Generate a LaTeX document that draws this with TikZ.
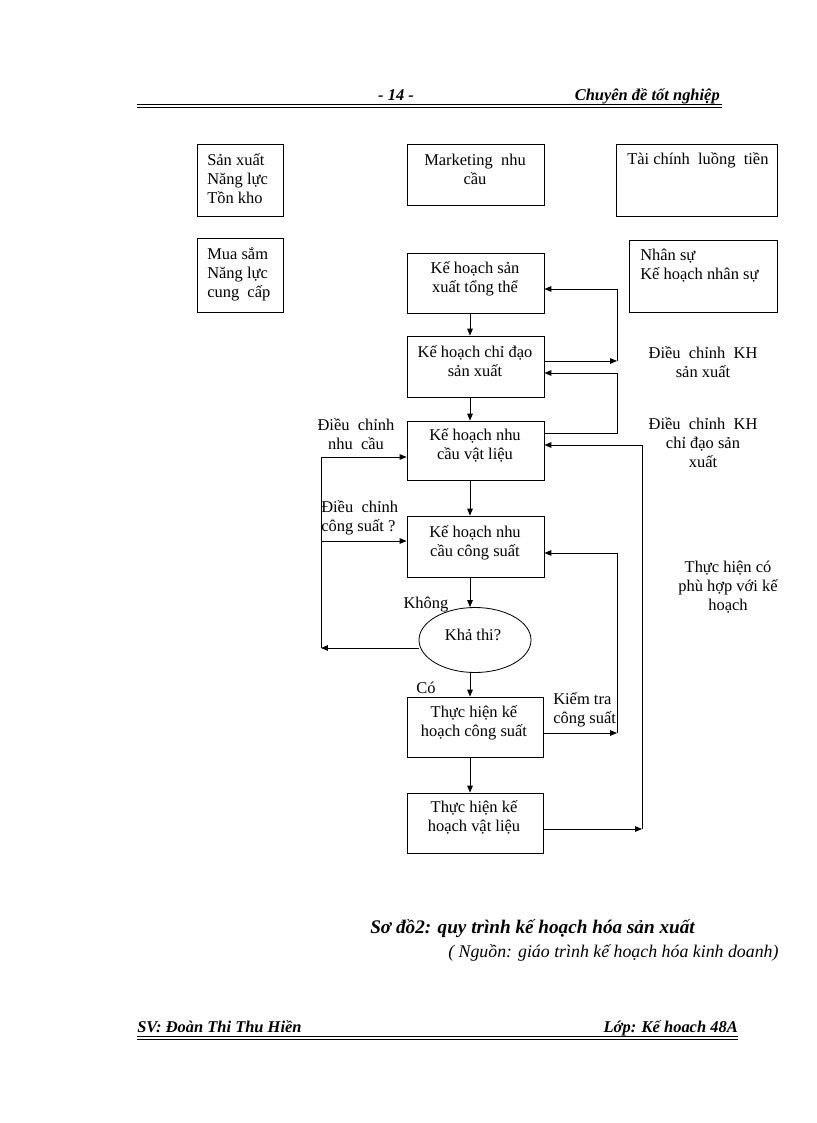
\documentclass[tikz,border=0pt]{standalone}
\usepackage{fontspec}
\setmainfont{Liberation Serif}
\usetikzlibrary{arrows.meta,fit,shapes.geometric}
\begin{document}
\begin{tikzpicture}[x=0.7292pt,y=-0.7292pt,
  box/.style={draw, line width=0.6pt, inner sep=0pt},
  txt/.style={align=center, inner sep=0pt, font=\fontsize{12}{13.8}\selectfont},
  ltxt/.style={align=left, inner sep=0pt, font=\fontsize{12}{13.8}\selectfont},
  hdr/.style={inner sep=0pt, font=\fontsize{12}{14}\selectfont\bfseries\itshape},
  arr/.style={-{Triangle[length=5pt,width=4pt]}, line width=0.6pt},
  ln/.style={line width=0.6pt}]
\useasboundingbox[fill=white] (0,0) rectangle (816,1123);

% header
\node[hdr, anchor=base] (pg) at (396,101) {- 14 -};
\node[hdr, anchor=base east] (ct) at (720,101) {Chuyên đề tốt nghiệp};
\draw[line width=0.9pt] (137,104.5) -- (722,104.5);
\draw[line width=0.5pt] (137,107) -- (722,107);

% boxes
\node[box, fit={(197,144)(283,216)}] (b1) {};
\node[box, fit={(407,144)(544,205)}] (b2) {};
\node[box, fit={(616,144)(777,216)}] (b3) {};
\node[box, fit={(197,238)(283,312)}] (b4) {};
\node[box, fit={(407,253)(544,313)}] (b5) {};
\node[box, fit={(629,240)(777,312)}] (b6) {};
\node[box, fit={(407,336)(544,397)}] (b7) {};
\node[box, fit={(407,421)(544,480)}] (b8) {};
\node[box, fit={(407,516)(544,577)}] (b9) {};
\node[draw, ellipse, line width=0.6pt, inner sep=0pt, minimum width={112*0.7292pt}, minimum height={65*0.7292pt}] (ell) at (475,640) {};
\node[box, fit={(407,697)(543,757)}] (b10) {};
\node[box, fit={(407,793)(543,853)}] (b11) {};

% box texts
\node[ltxt, anchor=west] (t1) at (207,179) {Sản xuất\\Năng lực\\Tồn kho};
\node[txt] (t2) at (475,169.5) {Marketing\ \ nhu\\cầu};
\node[ltxt, anchor=west] (t3) at (627,160) {Tài chính\ \ luồng\ \ tiền};
\node[ltxt, anchor=west] (t4) at (207,274) {Mua sắm\\Năng lực\\cung\ \ cấp};
\node[txt] (t5) at (475,278.5) {Kế hoạch sản\\xuất tổng thể};
\node[ltxt, anchor=west] (t6) at (640,265.5) {Nhân sự\\Kế hoạch nhân sự};
\node[txt] (t7) at (475,361.5) {Kế hoạch chỉ đạo\\sản xuất};
\node[txt] (t8) at (475,445.5) {Kế hoạch nhu\\cầu vật liệu};
\node[txt] (t9) at (475,542.5) {Kế hoạch nhu\\cầu công suất};
\node[txt] (te) at (473,635) {Khả thi?};
\node[txt] (t10) at (474,722.5) {Thực hiện kế\\hoạch công suất};
\node[txt] (t11) at (474,817.5) {Thực hiện kế\\hoạch vật liệu};

% side labels
\node[txt] (l1t) at (356,434) {Điều\ \ chỉnh\\nhu\ \ cầu};
\node[ltxt, anchor=west] (l2t) at (321,517.5) {Điều\ \ chỉnh\\công suất ?};
\node[txt] (kh) at (426,605) {Không};
\node[txt] (co) at (426,688) {Có};
\node[ltxt, anchor=west] (kt) at (553,710) {Kiểm tra\\công suất};
\node[txt] (r1t) at (703,362) {Điều\ \ chỉnh\ \ KH\\sản xuất};
\node[txt] (r2t) at (703,443) {Điều\ \ chỉnh\ \ KH\\chỉ đạo sản\\xuất};
\node[txt] (r3t) at (728,587) {Thực hiện có\\phù hợp với kế\\hoạch};

% main vertical chain
\coordinate (cx) at (470,0);
\draw[arr] (cx |- b5.south) -- (cx |- b7.north);
\draw[arr] (cx |- b7.south) -- (cx |- b8.north);
\draw[arr] (cx |- b8.south) -- (cx |- b9.north);
\draw[arr] (cx |- b9.south) -- (cx |- ell.north);
\draw[arr] (cx |- ell.south) -- (cx |- b10.north);
\draw[arr] (cx |- b10.south) -- (cx |- b11.north);

% right loops
\coordinate (j1) at (617,361);
\coordinate (j2) at (617,289);
\draw[arr] (b7.east |- j1) -- (j1);
\draw[arr] (j1) -- (j2) -- (b5.east |- j2);
\coordinate (j3) at (617,433);
\coordinate (j4) at (617,373);
\draw[arr] (b8.east |- j3) -- (j3) -- (j4) -- (b7.east |- j4);
\coordinate (j5) at (642,829);
\coordinate (j6) at (642,445);
\draw[arr] (b11.east |- j5) -- (j5);
\draw[arr] (j5) -- (j6) -- (b8.east |- j6);
\coordinate (j7) at (617,733);
\coordinate (j8) at (617,553);
\draw[arr] (b10.east |- j7) -- (j7);
\draw[arr] (j7) -- (j8) -- (b9.east |- j8);

% left loop
\coordinate (k1) at (321,457);
\coordinate (k2) at (321,541);
\coordinate (k3) at (321,648);
\draw[arr] (ell.west |- k3) -- (k3);
\draw[ln] (k3) -- (k1);
\draw[arr] (k1) -- (b8.west |- k1);
\draw[arr] (k2) -- (b9.west |- k2);

% caption
\node[inner sep=0pt, font=\fontsize{14}{16}\selectfont\bfseries\itshape, anchor=base west] (cap1) at (370,933) {Sơ đồ2: quy trình kế hoạch hóa sản xuất};
\node[inner sep=0pt, font=\fontsize{13}{15}\selectfont\itshape, anchor=base west] (cap2) at (448,957) {( Nguồn: giáo trình kế hoạch hóa kinh doanh)};

% footer
\node[hdr, anchor=base west] (sv) at (137,1032) {SV: Đoàn Thi Thu Hiền};
\node[hdr, anchor=base east] (lop) at (738,1032) {Lớp: Kế hoach 48A};
\draw[line width=1.1pt] (137,1036.5) -- (738,1036.5);
\draw[line width=0.5pt] (137,1039) -- (738,1039);
\end{tikzpicture}
\end{document}
